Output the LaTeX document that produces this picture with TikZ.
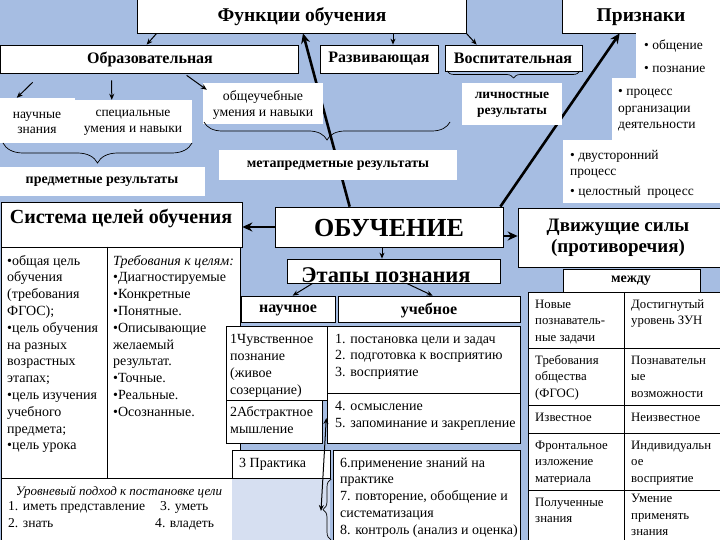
\documentclass[tikz,border=0pt]{standalone}
\usepackage{fontspec}
\setmainfont{Liberation Serif}
\usetikzlibrary{fit,arrows.meta,decorations.pathreplacing}
\definecolor{bgblue}{RGB}{166,189,226}
\definecolor{lightblue}{RGB}{214,223,241}
\pgfdeclarelayer{bglayer}
\pgfdeclarelayer{arrowlayer}
\pgfsetlayers{bglayer,arrowlayer,main}
\begin{document}
\begin{tikzpicture}[x=1pt,y=-1pt,
  box/.style={draw=black,fill=white,line width=0.7pt,inner sep=0pt},
  wbox/.style={fill=white,draw=none,inner sep=0pt},
  cell/.style={draw=black,fill=white,line width=0.6pt,inner sep=0pt},
  bigarrow/.style={line width=2.6pt,-{Stealth[length=10pt,width=9pt]}},
  arr/.style={line width=1pt,-{Stealth[length=6pt,width=5pt]}},
  dblarr/.style={line width=1pt,{Stealth[length=6pt,width=5pt]}-{Stealth[length=6pt,width=5pt]}},
  brc/.style={decorate,line width=0.7pt},
  txt/.style={inner sep=0pt,anchor=base west,align=left},
  ctxt/.style={inner sep=0pt,align=center},
  n14/.style={font=\fontsize{14}{16.8}\selectfont},
  n12/.style={font=\fontsize{12.8}{16.5}\selectfont},
]
\begin{pgfonlayer}{bglayer}
\fill[bgblue] (0,0) rectangle (720,540);
\end{pgfonlayer}
\useasboundingbox (0,0) rectangle (720,540);

% ---- top boxes
\node[box,fit={(137,-5)(466,33)}] (funk) {};
\node[ctxt,font=\fontsize{19.5}{22}\selectfont\bfseries] (funkT) at (302,17) {Функции обучения};
\node[box,fit={(562,-5)(725,33)}] (priz) {};
\node[ctxt,font=\fontsize{19.5}{22}\selectfont\bfseries] (prizT) at (641,17) {Признаки};

\node[box,fit={(0,45)(298,73)}] (obr) {};
\node[ctxt,font=\fontsize{16}{18}\selectfont\bfseries] (obrT) at (150,59) {Образовательная};
\node[box,fit={(320,45)(438,73)}] (razv) {};
\node[ctxt,font=\fontsize{16}{18}\selectfont\bfseries] (razvT) at (379,59) {Развивающая};
\node[box,fit={(445,45)(582,71)}] (vosp) {};
\node[ctxt,font=\fontsize{16}{18}\selectfont\bfseries] (vospT) at (513,58) {Воспитательная};

% ---- white boxes
\node[wbox,fit={(636,33)(720,79)}] (obsch) {};
\node[txt,font=\fontsize{13.5}{23}\selectfont] (obschT) at (644,73) {• общение\\• познание};
\node[wbox,fit={(612,78)(720,140)}] (proc) {};
\node[txt,font=\fontsize{13.5}{16.5}\selectfont] (procT) at (618,129) {• процесс\\организации\\деятельности};

\node[wbox,fit={(0,98)(75,143)}] (nz) {};
\node[ctxt,font=\fontsize{13.5}{15.5}\selectfont] (nzT) at (37,123) {научные\\знания};
\node[wbox,fit={(75,100)(192,143)}] (spec) {};
\node[ctxt,font=\fontsize{13.5}{15.5}\selectfont] (specT) at (133,123) {специальные\\умения и навыки};
\node[wbox,fit={(203,83)(323,124)}] (obu) {};
\node[ctxt,font=\fontsize{13.8}{16}\selectfont] (obuT) at (263,105) {общеучебные\\умения и навыки};
\node[wbox,fit={(462,83)(562,125)}] (lich) {};
\node[ctxt,font=\fontsize{13.5}{16}\selectfont\bfseries] (lichT) at (512,105) {личностные\\результаты};
\node[wbox,fit={(219,150)(457,180)}] (meta) {};
\node[ctxt,font=\fontsize{14}{16}\selectfont\bfseries] (metaT) at (338,166) {метапредметные результаты};
\node[wbox,fit={(0,167)(205,196)}] (pred) {};
\node[ctxt,font=\fontsize{14}{16}\selectfont\bfseries] (predT) at (102,182) {предметные результаты};
\node[wbox,fit={(563,140)(720,203)}] (dvus) {};
\node[txt,font=\fontsize{13.5}{17}\selectfont] (dvusT) at (570,176) {• двусторонний\\процесс};
\node[txt,font=\fontsize{13.5}{17}\selectfont] (celT) at (570,196) {• целостный\ \ процесс};

% ---- braces
\draw[brc,decoration={brace,mirror,amplitude=7pt}] (447,71) -- (580,71);
\draw[brc,decoration={brace,mirror,amplitude=18pt}] (204,122) -- (450,122);
\draw[brc,decoration={brace,mirror,amplitude=20pt}] (3,143) -- (192,143);

% ---- system of goals
\node[box,fit={(1,202)(242,247)}] (sys) {};
\node[ctxt,font=\fontsize{20}{22}\selectfont\bfseries] (sysT) at (121,218) {Система целей обучения};
\node[cell,fit={(1,247)(240,478)}] (ltab) {};
\draw[line width=0.6pt] (ltab.north west -| 107,0) -- (ltab.south west -| 107,0);
\node[txt,n14] (lc1) at (7,449.8) {•общая цель\\обучения\\(требования\\ФГОС);\\•цель обучения\\на разных\\возрастных\\этапах;\\•цель изучения\\учебного\\предмета;\\•цель урока};
\node[txt,n14] (lc2) at (113,416.2) {\textit{Требования к целям:}\\•Диагностируемые\\•Конкретные\\•Понятные.\\•Описывающие\\желаемый\\результат.\\•Точные.\\•Реальные.\\•Осознанные.};
\node[cell,fit={(1,478)(238,545)}] (lvl) {};
\node[ctxt,anchor=base,font=\fontsize{13}{16}\selectfont\itshape] (lvlT) at (119,495) {Уровневый подход к постановке цели};
\node[txt,font=\fontsize{13.6}{16}\selectfont] (l1) at (8,510) {1. иметь представление};
\node[txt,font=\fontsize{13.6}{16}\selectfont] (l3) at (160,510) {3. уметь};
\node[txt,font=\fontsize{13.6}{16}\selectfont] (l2) at (8,527) {2. знать};
\node[txt,font=\fontsize{13.6}{16}\selectfont] (l4) at (155,527) {4. владеть};

% ---- center
\node[box,fit={(275,207)(503,247)}] (obuch) {};
\node[ctxt,font=\fontsize{26}{28}\selectfont\bfseries] (obuchT) at (389,228) {ОБУЧЕНИЕ};
\node[box,fit={(518,208)(725,267)}] (dv) {};
\node[ctxt,font=\fontsize{19}{21}\selectfont\bfseries] (dvT) at (618,238) {Движущие силы\\(противоречия)};
\node[box,fit={(287,259)(500,283)}] (etap) {};
\node[ctxt,anchor=base,font=\fontsize{22.5}{24}\selectfont\bfseries] (etapT) at (386,282) {Этапы познания};
\node[box,fit={(241,296)(335,322)}] (nauch) {};
\node[ctxt,font=\fontsize{16}{18}\selectfont\bfseries] (nauchT) at (288,310) {научное};
\node[box,fit={(338,296)(520,322)}] (ucheb) {};
\node[ctxt,font=\fontsize{16}{18}\selectfont\bfseries] (uchebT) at (429,310) {учебное};

\node[cell,fit={(226,326)(327,400)}] (s1) {};
\node[cell,fit={(226,400)(322,443)}] (s2) {};
\node[cell,fit={(327,326)(520,393)}] (u1) {};
\node[cell,fit={(327,393)(520,443)}] (u2) {};
\node[txt,font=\fontsize{14}{17}\selectfont] (s1T) at (230,394) {1Чувственное\\познание\\(живое\\созерцание)};
\node[txt,font=\fontsize{14}{17}\selectfont] (s2T) at (230,433) {2Абстрактное\\мышление};
\node[txt,font=\fontsize{14}{16.5}\selectfont] (u1T) at (335,376) {1. постановка цели и задач\\2. подготовка к восприятию\\3. восприятие};
\node[txt,font=\fontsize{14}{17}\selectfont] (u2T) at (335,427) {4. осмысление\\5. запоминание и закрепление};

\fill[lightblue] (232,478) rectangle (330,545);
\node[cell,fit={(232,450)(330,478)}] (s3) {};
\node[cell,fit={(333,450)(520,545)}] (u3) {};
\node[txt,n14] (s3T) at (239,467) {3 Практика};
\node[txt,font=\fontsize{14}{16.75}\selectfont] (u3T) at (340,534) {6.применение знаний на\\практике\\7. повторение, обобщение и\\систематизация\\8. контроль (анализ и оценка)};
\draw[brc,decoration={brace,mirror,amplitude=8pt}] (331,479) -- (331,540);
\coordinate (btip) at (321,511);

% ---- right table
\node[box,fit={(563,269)(700,292)}] (mezh) {};
\node[ctxt,font=\fontsize{14}{16}\selectfont\bfseries] (mezhT) at (631,281) {между};
\node[cell,fit={(528,292)(720,545)}] (rtab) {};
\draw[line width=0.6pt] (624,292) -- (624,545);
\foreach \yy in {348,405,433,490} \draw[line width=0.6pt] (528,\yy) -- (720,\yy);
\node[txt,n12] (r11) at (535,341) {Новые\\познаватель-\\ные задачи};
\node[txt,n12] (r12) at (631,324.5) {Достигнутый\\уровень ЗУН};
\node[txt,n12] (r21) at (535,397) {Требования\\общества\\(ФГОС)};
\node[txt,n12] (r22) at (631,397) {Познавательн\\ые\\возможности};
\node[txt,n12] (r31) at (535,421) {Известное};
\node[txt,n12] (r32) at (631,421) {Неизвестное};
\node[txt,n12] (r41) at (535,482) {Фронтальное\\изложение\\материала};
\node[txt,n12] (r42) at (631,482) {Индивидуальн\\ое\\восприятие};
\node[txt,n12] (r51) at (535,522.5) {Полученные\\знания};
\node[txt,n12] (r52) at (631,535.5) {Умение\\применять\\знания};

% ---- thick arrows (behind boxes)
\begin{pgfonlayer}{arrowlayer}
\draw[bigarrow] ([xshift=75pt]obuch.north west) -- ([xshift=1.5pt]funk.south);
\draw[bigarrow] ([xshift=-3pt]obuch.north east) -- ([xshift=58pt]priz.south west);
\end{pgfonlayer}
\draw[bigarrow] (obuch.west) -- (obuch.west -| sys.east);
\draw[bigarrow,line width=2pt] ([yshift=-9pt]obuch.east) -- ([yshift=-9pt]obuch.east -| dv.west);

% ---- thin arrows
\draw[arr] ([xshift=20pt]funk.south west) -- ([xshift=147pt]obr.north west);
\draw[arr] ([xshift=91.5pt]funk.south) -- ([xshift=14pt]razv.north);
\draw[arr] (funk.south east) -- ([xshift=32pt]vosp.north west);
\draw[arr] ([xshift=33pt,yshift=-9pt]obr.south west) -- ([xshift=17pt]nz.north west);
\draw[arr] ([xshift=112pt,yshift=-7pt]obr.south west) -- ([xshift=37pt]spec.north west);
\draw[arr] ([xshift=187pt,yshift=-2pt]obr.south west) -- ([xshift=4pt,yshift=-7pt]obu.north west);
\draw[arr] ([xshift=-7pt]obuch.south) -- ([xshift=-11.5pt]etap.north);
\draw[arr] ([xshift=26pt]etap.south west) -- ([xshift=52pt]nauch.north west);
\draw[arr] ([xshift=120pt]etap.south west) -- ([xshift=95pt]ucheb.north west);
\draw[dblarr] ([xshift=4pt,yshift=3.5pt]s2.east) -- (btip);
\end{tikzpicture}
\end{document}
